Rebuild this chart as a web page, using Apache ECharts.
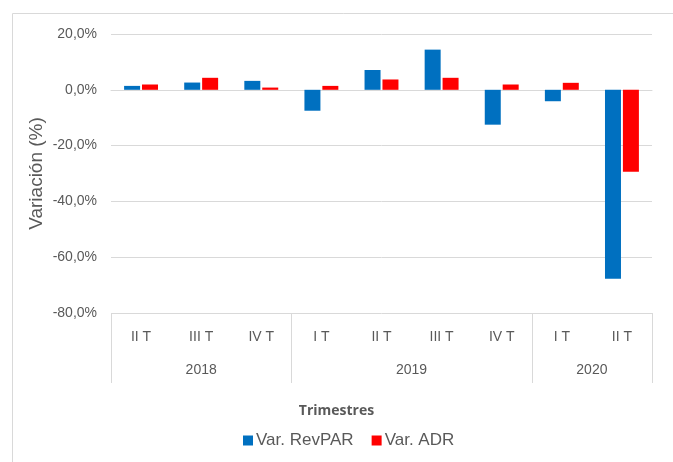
<!DOCTYPE html>
<html>
<head>
<meta charset="utf-8">
<script src="https://cdn.jsdelivr.net/npm/echarts@6/dist/echarts.min.js"></script>
<style>
  html, body { margin: 0; padding: 0; background: #fff; }
  #chart { width: 673px; height: 462px; }
</style>
</head>
<body>
<div id="chart"></div>
<script>
// datos
var quarters = ['II T', 'III T', 'IV T', 'I T', 'II T', 'III T', 'IV T', 'I T', 'II T'];
var years = ['2018', '2019', '2020'];
var yearBounds = [0, 3, 7, 9];      // limites de cada año (en trimestres)
var yearCenters = [1.5, 5, 8];
var revpar = [1.4, 2.6, 3.2, -7.5, 7.1, 14.4, -12.5, -4.1, -67.7];
var adr = [1.9, 4.3, 0.8, 1.4, 3.7, 4.3, 1.9, 2.5, -29.4];

var chart = echarts.init(document.getElementById('chart'));
var textColor = '#595959';
var lineColor = '#d9d9d9';

var option = {
  animation: false,
  textStyle: { fontFamily: 'Liberation Sans, Arial, sans-serif' },
  color: ['#0070C0', '#FF0000'],
  title: {
    text: 'Trimestres',
    left: 'center',
    top: 399,
    textStyle: { fontFamily: 'Open Sans, sans-serif', fontSize: 14, fontWeight: 'bold', color: textColor }
  },
  legend: {
    top: 427,
    left: 238,
    itemWidth: 10,
    itemHeight: 10,
    itemGap: 18,
    icon: 'rect',
    textStyle: { fontSize: 17, color: textColor, padding: [0, 0, 0, -2] },
    data: ['Var. RevPAR', 'Var. ADR']
  },
  graphic: [{
    type: 'rect',
    left: 10,
    top: 11,
    shape: { width: 700, height: 500 },
    style: { fill: 'none', stroke: lineColor, lineWidth: 1 },
    z: -1
  }],
  grid: { left: 111, right: 21, top: 34, bottom: 149 },
  xAxis: [
    {
      type: 'category',
      data: quarters,
      axisLine: { show: true, lineStyle: { color: lineColor } },
      axisTick: { show: false },
      axisLabel: { color: textColor, fontSize: 14, margin: 17, interval: 0 }
    },
    {
      type: 'value',
      position: 'bottom',
      min: 0,
      max: 9,
      splitLine: { show: false },
      axisLine: { show: false },
      axisTick: {
        show: true,
        inside: false,
        length: 70,
        customValues: yearBounds,
        lineStyle: { color: lineColor }
      },
      axisLabel: {
        customValues: yearCenters,
        color: textColor,
        fontSize: 14,
        margin: 50,
        formatter: function (v) {
          return years[yearCenters.indexOf(v)];
        }
      }
    }
  ],
  yAxis: {
    type: 'value',
    min: -80,
    max: 20,
    interval: 20,
    name: 'Variación (%)',
    nameLocation: 'middle',
    nameGap: 65,
    nameMoveOverlap: false,
    nameTextStyle: { fontSize: 19, color: textColor },
    axisLine: { show: false },
    axisTick: { show: false },
    splitLine: { lineStyle: { color: lineColor } },
    axisLabel: {
      color: textColor,
      fontSize: 14,
      margin: 14,
      formatter: function (v) { return v.toFixed(1).replace('.', ',') + '%'; }
    }
  },
  series: [
    {
      name: 'Var. RevPAR',
      type: 'bar',
      xAxisIndex: 0,
      barWidth: 16,
      barGap: '12%',
      data: revpar
    },
    {
      name: 'Var. ADR',
      type: 'bar',
      xAxisIndex: 0,
      barWidth: 16,
      barGap: '12%',
      data: adr
    }
  ]
};
chart.setOption(option);
</script>
</body>
</html>
